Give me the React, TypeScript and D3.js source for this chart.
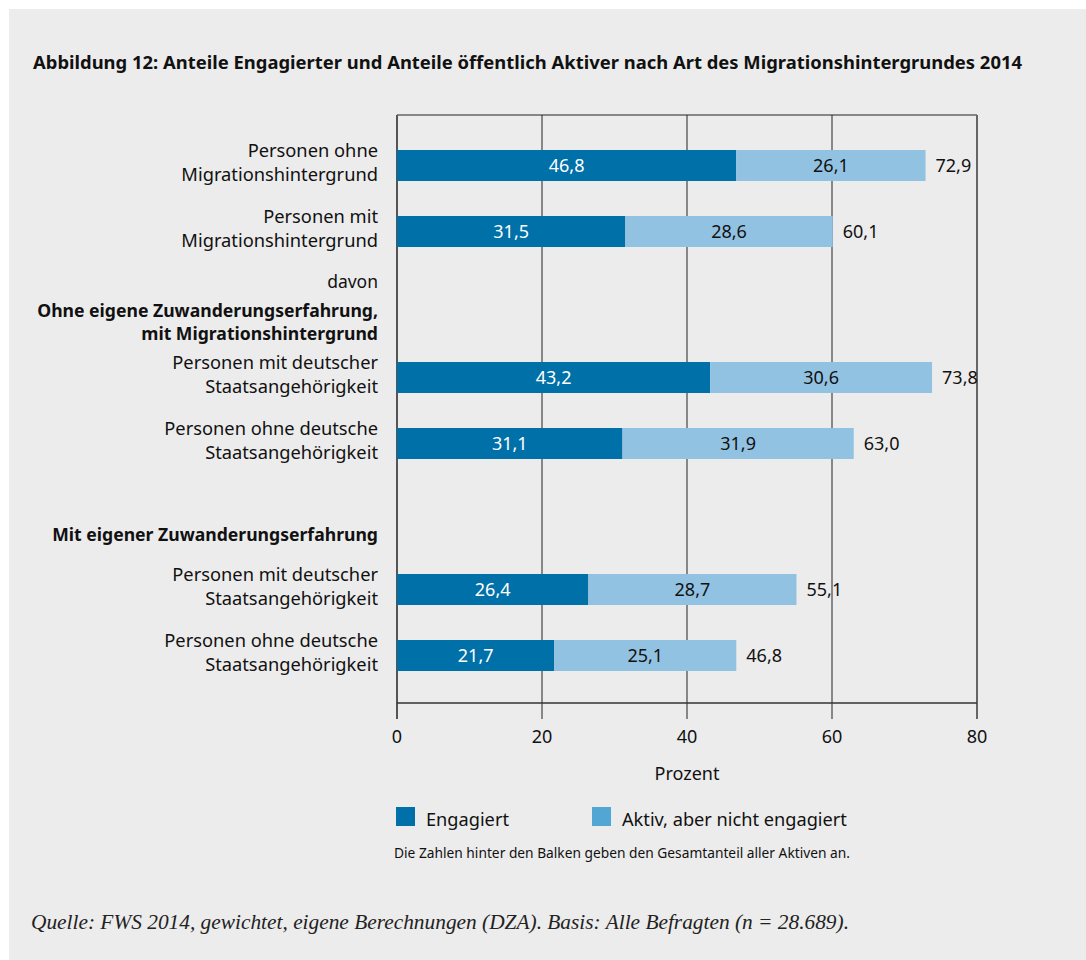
import * as d3 from "d3";

// data
const rowLabels: string[][] = [
  ["Personen ohne", "Migrationshintergrund"],
  ["Personen mit", "Migrationshintergrund"],
  ["Personen mit deutscher", "Staatsangehörigkeit"],
  ["Personen ohne deutsche", "Staatsangehörigkeit"],
  ["Personen mit deutscher", "Staatsangehörigkeit"],
  ["Personen ohne deutsche", "Staatsangehörigkeit"],
];
const rowGroup = [0, 0, 1, 1, 2, 2];
const engagiert = [46.8, 31.5, 43.2, 31.1, 26.4, 21.7];
const aktiv = [26.1, 28.6, 30.6, 31.9, 28.7, 25.1];
const gesamt = [72.9, 60.1, 73.8, 63.0, 55.1, 46.8];
const xTicks = [0, 20, 40, 60, 80];
const legendLabels = ["Engagiert", "Aktiv, aber nicht engagiert"];

const title =
  "Abbildung 12: Anteile Engagierter und Anteile öffentlich Aktiver nach Art des Migrationshintergrundes 2014";
const note = "Die Zahlen hinter den Balken geben den Gesamtanteil aller Aktiven an.";
const source =
  "Quelle: FWS 2014, gewichtet, eigene Berechnungen (DZA). Basis: Alle Befragten (n = 28.689).";

// group headings (offset relative to first bar centre of the group)
const headings = [
  { group: 1, text: "davon", bold: false, dy: -90 },
  { group: 1, text: "Ohne eigene Zuwanderungserfahrung,", bold: true, dy: -61 },
  { group: 1, text: "mit Migrationshintergrund", bold: true, dy: -38 },
  { group: 2, text: "Mit eigener Zuwanderungserfahrung", bold: true, dy: -49 },
];

const DARK = "#0070a8";
const LIGHT = "#92c2e2";
const LEGEND_LIGHT = "#52a6d4";
const FONT = "'Noto Sans', sans-serif";

const fmt = (v: number) => v.toFixed(1).replace(".", ",");

export default function App() {
  const width = 1086;
  const height = 960;
  const plotTop = 115;
  const axisY = 703;
  const tickBottom = 719;
  const barH = 31;

  const x = d3.scaleLinear().domain([0, 80]).range([397, 977]);
  const groupY = d3.scaleLinear().domain([0, 1]).range([150, 362]);
  const rowY = d3.scaleLinear().domain([0, 1]).range([0, 66]);

  const slotInGroup = rowGroup.map(
    (g, i) => rowGroup.slice(0, i).filter((h) => h === g).length
  );
  const barTop = (i: number) => groupY(rowGroup[i]) + rowY(slotInGroup[i]);

  return (
    <svg
      width={width}
      height={height}
      style={{ position: "absolute", left: 0, top: 0, fontFamily: FONT }}
    >
      <rect x={0} y={0} width={width} height={height} fill="#fff" />
      <rect x={9} y={9} width={width - 9} height={height - 9} fill="#ececec" />

      <text
        x={33}
        y={69}
        fontSize={17.5}
        fontWeight="bold"
        fill="#111"
        textLength={989}
        lengthAdjust="spacingAndGlyphs"
      >
        {title}
      </text>

      {/* frame */}
      <line x1={x(0)} x2={x(80)} y1={plotTop} y2={plotTop} stroke="#666" strokeWidth={1.5} />
      <line x1={x(80)} x2={x(80)} y1={plotTop} y2={tickBottom} stroke="#666" strokeWidth={2} />

      {/* grid + ticks */}
      {xTicks.slice(1, -1).map((t) => (
        <line key={t} x1={x(t)} x2={x(t)} y1={plotTop} y2={tickBottom} stroke="#222" strokeWidth={1} />
      ))}
      <line x1={x(0)} x2={x(0)} y1={plotTop} y2={tickBottom} stroke="#555" strokeWidth={2} />
      <line x1={x(0)} x2={x(80)} y1={axisY} y2={axisY} stroke="#333" strokeWidth={1.5} />

      {xTicks.map((t) => (
        <text key={t} x={x(t)} y={743} textAnchor="middle" fontSize={18} fill="#111">
          {t}
        </text>
      ))}
      <text x={x(40)} y={780} textAnchor="middle" fontSize={18} fill="#111">
        Prozent
      </text>

      {/* headings */}
      {headings.map((h, i) => (
        <text
          key={i}
          x={378}
          y={groupY(h.group) + barH / 2 + h.dy}
          textAnchor="end"
          fontSize={h.bold ? 17.6 : 17.5}
          fontWeight={h.bold ? "bold" : "normal"}
          fill="#111"
        >
          {h.text}
        </text>
      ))}

      {/* bars */}
      {engagiert.map((e, i) => {
        const y0 = barTop(i);
        const cy = y0 + barH / 2;
        const a = aktiv[i];
        return (
          <g key={i}>
            {rowLabels[i].map((l, j) => (
              <text key={j} x={378} y={cy - 9 + j * 24} textAnchor="end" fontSize={18.3} fill="#111">
                {l}
              </text>
            ))}
            <rect x={x(0)} y={y0} width={x(e) - x(0)} height={barH} fill={DARK} />
            <rect x={x(e)} y={y0} width={x(e + a) - x(e)} height={barH} fill={LIGHT} />
            <text x={(x(0) + x(e)) / 2} y={cy + 6.5} textAnchor="middle" fontSize={18} fill="#fff">
              {fmt(e)}
            </text>
            <text x={(x(e) + x(e + a)) / 2} y={cy + 6.5} textAnchor="middle" fontSize={18} fill="#111">
              {fmt(a)}
            </text>
            <text x={x(gesamt[i]) + 10} y={cy + 6.5} fontSize={18} fill="#111">
              {fmt(gesamt[i])}
            </text>
          </g>
        );
      })}

      {/* legend */}
      {legendLabels.map((l, i) => (
        <g key={l} transform={`translate(${396 + i * 196},807)`}>
          <rect width={19} height={19} fill={i === 0 ? DARK : LEGEND_LIGHT} />
          <text x={30} y={19} fontSize={18.2} fill="#111">
            {l}
          </text>
        </g>
      ))}
      <text x={394} y={858} fontSize={13.75} fill="#111">
        {note}
      </text>

      <text
        x={31}
        y={929}
        fontSize={20.5}
        fontStyle="italic"
        fontFamily="'Liberation Serif', serif"
        fill="#222"
        textLength={818}
        lengthAdjust="spacingAndGlyphs"
      >
        {source}
      </text>
    </svg>
  );
}
